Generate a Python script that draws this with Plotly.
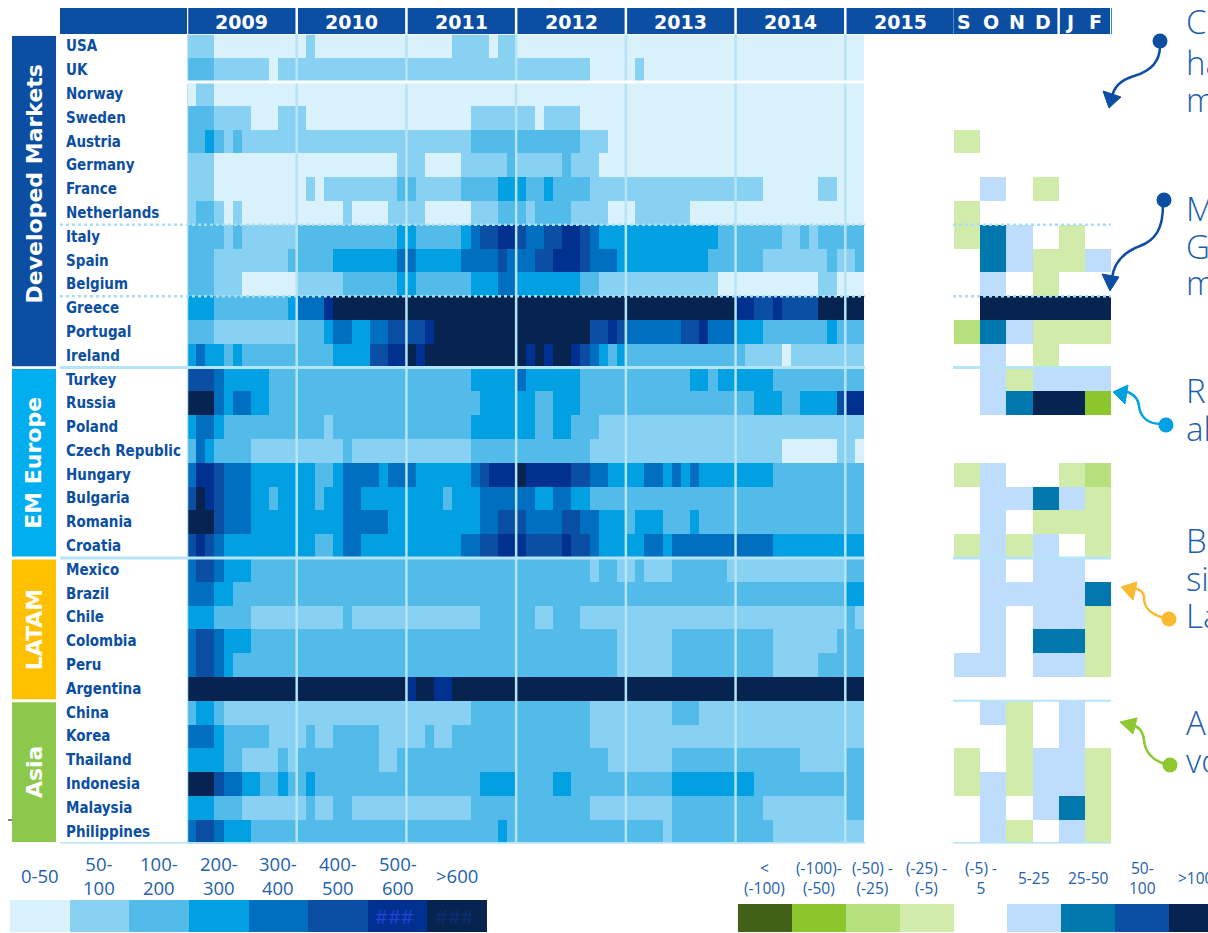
import plotly.graph_objects as go

W, H = 1208, 933

# ---------------------------------------------------------------- data
countries = ["USA", "UK", "Norway", "Sweden", "Austria", "Germany", "France", "Netherlands",
             "Italy", "Spain", "Belgium", "Greece", "Portugal", "Ireland",
             "Turkey", "Russia", "Poland", "Czech Republic", "Hungary", "Bulgaria", "Romania", "Croatia",
             "Mexico", "Brazil", "Chile", "Colombia", "Peru", "Argentina",
             "China", "Korea", "Thailand", "Indonesia", "Malaysia", "Philippines"]

group_names = ["Developed Markets", "EM Europe", "LATAM", "Asia"]
group_sizes = [14, 8, 6, 6]

years = ["2009", "2010", "2011", "2012", "2013", "2014", "2015"]
recent_months = ["S", "O", "N", "D", "J", "F"]

level_labels = ["0-50", "50-<br>100", "100-<br>200", "200-<br>300", "300-<br>400",
                "400-<br>500", "500-<br>600", ">600"]
change_labels = ["<<br>(-100)", "(-100)-<br>(-50)", "(-50) -<br>(-25)", "(-25) -<br>(-5)",
                 "(-5) -<br>5", "5-25", "25-50", "50-<br>100", ">100"]

# Monthly spread bucket (0 = 0-50 ... 7 = >600), Jan 2009 - Feb 2015, as (bucket, months) runs
developed_spreads = [
    [(1, 3), (0, 10), (1, 1), (0, 15), (1, 4), (0, 1), (1, 2), (0, 38)],
    [(2, 3), (1, 6), (0, 1), (1, 34), (0, 5), (1, 1), (0, 24)],
    [(0, 1), (1, 2), (0, 71)],
    [(2, 3), (1, 4), (0, 3), (1, 3), (0, 18), (1, 7), (0, 1), (1, 4), (0, 31)],
    [(2, 2), (3, 1), (2, 1), (1, 1), (2, 1), (1, 25), (2, 12), (1, 3), (0, 28)],
    [(1, 3), (0, 20), (1, 3), (0, 4), (1, 5), (2, 1), (1, 5), (2, 1), (1, 3), (0, 29)],
    [(1, 3), (0, 10), (1, 1), (0, 1), (1, 8), (2, 2), (1, 5), (2, 4), (3, 3), (2, 2), (3, 1),
     (2, 4), (1, 19), (0, 6), (1, 2), (0, 3)],
    [(1, 1), (2, 2), (1, 1), (0, 1), (1, 1), (0, 11), (1, 1), (0, 4), (1, 4), (0, 5), (1, 3),
     (2, 3), (1, 1), (2, 4), (1, 4), (0, 3), (1, 6), (0, 19)],
    [(2, 4), (1, 1), (2, 1), (1, 6), (2, 11), (3, 2), (2, 5), (3, 1), (4, 1), (5, 2), (6, 2),
     (5, 1), (4, 2), (5, 2), (6, 2), (5, 1), (4, 1), (3, 13), (2, 7), (1, 2), (2, 1), (1, 1), (2, 5)],
    [(2, 3), (1, 8), (2, 5), (3, 7), (4, 2), (3, 5), (4, 4), (5, 1), (4, 3), (5, 2), (6, 3),
     (5, 1), (4, 3), (3, 10), (2, 6), (1, 7), (2, 1), (1, 2), (2, 1)],
    [(2, 3), (1, 3), (0, 6), (1, 5), (2, 6), (3, 2), (2, 6), (3, 3), (4, 2), (3, 7), (2, 2),
     (1, 13), (0, 11), (1, 2), (0, 3)],
    [(3, 3), (2, 8), (3, 1), (4, 3), (6, 1), (7, 44), (6, 2), (5, 2), (6, 1), (5, 4), (7, 5)],
    [(2, 3), (1, 9), (2, 3), (3, 1), (4, 2), (3, 2), (4, 2), (5, 4), (6, 1), (7, 17), (5, 2),
     (6, 1), (5, 1), (4, 6), (5, 2), (6, 1), (4, 3), (3, 3), (2, 7), (3, 1), (2, 3)],
    [(3, 1), (4, 1), (3, 2), (2, 1), (3, 1), (2, 10), (3, 4), (5, 2), (6, 2), (7, 1), (6, 1),
     (7, 11), (6, 1), (7, 1), (6, 1), (7, 2), (6, 1), (5, 1), (4, 1), (3, 1), (2, 1), (3, 1),
     (2, 13), (1, 4), (0, 1), (1, 8)],
]
em_europe_spreads = [
    [(5, 3), (4, 1), (3, 5), (2, 22), (3, 5), (4, 1), (3, 6), (2, 12), (3, 2), (2, 1), (3, 6), (2, 10)],
    [(7, 3), (4, 1), (3, 1), (4, 2), (3, 2), (2, 23), (3, 6), (2, 2), (3, 3), (2, 19), (3, 3),
     (2, 2), (3, 4), (5, 1), (6, 2)],
    [(3, 1), (4, 2), (3, 1), (2, 11), (1, 1), (2, 15), (3, 7), (2, 2), (3, 2), (2, 3), (1, 29)],
    [(2, 1), (4, 1), (3, 1), (2, 4), (1, 10), (2, 1), (1, 13), (2, 13), (1, 21), (0, 6), (1, 2), (0, 1)],
    [(4, 1), (6, 2), (5, 1), (4, 3), (3, 7), (2, 2), (3, 1), (4, 4), (3, 1), (4, 3), (3, 6),
     (4, 1), (5, 1), (6, 3), (7, 1), (6, 5), (5, 2), (4, 2), (3, 4), (4, 2), (3, 1), (4, 1),
     (3, 1), (4, 1), (3, 8), (2, 10)],
    [(5, 1), (7, 1), (6, 1), (5, 1), (4, 3), (3, 2), (2, 1), (3, 4), (2, 1), (3, 2), (4, 2),
     (3, 9), (2, 1), (3, 3), (4, 6), (3, 2), (4, 2), (3, 2), (2, 30)],
    [(7, 3), (5, 1), (4, 3), (3, 10), (4, 5), (3, 10), (4, 2), (5, 3), (4, 4), (5, 2), (4, 2),
     (3, 3), (2, 1), (3, 3), (2, 3), (3, 1), (2, 18)],
    [(5, 1), (6, 1), (5, 1), (4, 1), (3, 10), (2, 2), (3, 1), (4, 2), (3, 11), (4, 2), (5, 2),
     (6, 3), (5, 4), (6, 1), (5, 2), (4, 1), (3, 5), (4, 2), (3, 1), (4, 11), (3, 10)],
]
latam_spreads = [
    [(4, 1), (5, 2), (4, 1), (3, 3), (2, 37), (1, 1), (2, 2), (1, 2), (2, 1), (1, 3), (2, 6), (1, 13), (2, 2)],
    [(4, 3), (3, 2), (2, 67), (3, 2)],
    [(3, 3), (2, 4), (1, 10), (2, 1), (1, 14), (2, 6), (1, 2), (2, 3), (1, 29), (2, 1), (1, 1)],
    [(4, 1), (5, 2), (4, 1), (3, 3), (2, 40), (1, 6), (2, 11), (1, 7), (2, 3)],
    [(4, 1), (5, 2), (4, 1), (3, 1), (2, 42), (1, 6), (2, 11), (1, 5), (2, 5)],
    [(7, 24), (6, 1), (7, 2), (6, 2), (7, 45)],
]
asia_spreads = [
    [(2, 1), (3, 2), (2, 1), (1, 27), (2, 13), (1, 9), (2, 3), (1, 18)],
    [(4, 3), (3, 1), (2, 5), (1, 4), (2, 1), (1, 2), (2, 5), (1, 5), (2, 1), (1, 2), (2, 15), (1, 30)],
    [(3, 4), (2, 2), (1, 4), (2, 1), (1, 1), (2, 9), (1, 2), (2, 23), (1, 7), (2, 14), (1, 5), (2, 2)],
    [(7, 3), (5, 1), (4, 2), (3, 2), (2, 2), (3, 1), (2, 2), (3, 1), (2, 18), (3, 4), (2, 4),
     (3, 2), (2, 11), (3, 9), (2, 12)],
    [(3, 3), (2, 3), (1, 7), (2, 1), (1, 2), (2, 2), (1, 13), (2, 13), (1, 9), (2, 10), (1, 9), (2, 2)],
    [(4, 1), (5, 2), (4, 1), (3, 3), (2, 27), (3, 1), (2, 17), (1, 1), (2, 11), (1, 10)],
]

# Monthly change bucket, Sep 2014 - Feb 2015 (-4 = <(-100) ... 0 = (-5)-5 ... 4 = >100)
developed_changes = [
    [0, 0, 0, 0, 0, 0], [0, 0, 0, 0, 0, 0], [0, 0, 0, 0, 0, 0], [0, 0, 0, 0, 0, 0],
    [-1, 0, 0, 0, 0, 0], [0, 0, 0, 0, 0, 0], [0, 1, 0, -1, 0, 0], [-1, 0, 0, 0, 0, 0],
    [-1, 2, 1, 0, -1, 0], [0, 2, 1, -1, -1, 1], [0, 1, 0, -1, 0, 0],
    [0, 4, 4, 4, 4, 4], [-2, 2, 1, -1, -1, -1], [0, 1, 0, -1, 0, 0],
]
em_europe_changes = [
    [0, 1, -1, 1, 1, 1], [0, 1, 2, 4, 4, -3], [0, 0, 0, 0, 0, 0], [0, 0, 0, 0, 0, 0],
    [-1, 1, 0, 0, -1, -2], [0, 1, 1, 2, 1, -1], [0, 1, 0, -1, -1, -1], [-1, 1, -1, 1, 0, -1],
]
latam_changes = [
    [0, 1, 0, 1, 1, 0], [0, 1, 1, 1, 1, 2], [0, 1, 0, 1, 1, -1],
    [0, 1, 0, 2, 2, -1], [1, 1, 0, 1, 1, -1], [0, 0, 0, 0, 0, 0],
]
asia_changes = [
    [0, 1, -1, 0, 1, 0], [0, 0, -1, 0, 1, 0], [-1, 0, -1, 1, 1, -1],
    [-1, 1, -1, 1, 1, -1], [0, 1, 0, 1, 2, -1], [0, 1, -1, 0, 1, -1],
]

# ---------------------------------------------------------------- styling
level_colors = ["#d9f1fb", "#89d1f2", "#52bbea", "#00a0e3", "#006fc0", "#0a4fa3", "#003090", "#06244f"]
change_colors = ["#416216", "#8bc72c", "#b6e07d", "#d0ebaa", "#ffffff",
                 "#bedcfc", "#0078ae", "#0a4fa3", "#06244f"]
group_colors = ["#0b4ea2", "#00aeef", "#ffc000", "#8cc84b"]
group_label_shift = [-0.7, 0, 0, 0]
NAVY = "#0b4ea2"
GRID = "#b5e4f6"
TEXT_BLUE = "#2360ad"
BOLD_FONT = "DejaVu Sans"


def px(x):
    return x / W


def py(y):
    return 1 - y / H


def expand(runs):
    row = []
    for level, n in runs:
        row += [level] * n
    return row


def discrete_scale(colors):
    n = len(colors)
    scale = []
    for i, c in enumerate(colors):
        scale += [[i / n, c], [(i + 1) / n, c]]
    return scale


spreads = [expand(r) for r in developed_spreads + em_europe_spreads + latam_spreads + asia_spreads]
changes = developed_changes + em_europe_changes + latam_changes + asia_changes
n_rows = len(countries)
n_months = len(spreads[0])

fig = go.Figure()

fig.add_trace(go.Heatmap(
    z=spreads, x=list(range(n_months)), y=list(range(n_rows)),
    colorscale=discrete_scale(level_colors), zmin=-0.5, zmax=len(level_colors) - 0.5,
    showscale=False, hoverinfo="skip", xaxis="x", yaxis="y"))

fig.add_trace(go.Heatmap(
    z=changes, x=list(range(len(recent_months))), y=list(range(n_rows)),
    colorscale=discrete_scale(change_colors), zmin=-4.5, zmax=4.5,
    showscale=False, hoverinfo="skip", xaxis="x2", yaxis="y2"))

# colour keys
fig.add_trace(go.Heatmap(
    z=[list(range(len(level_colors)))], colorscale=discrete_scale(level_colors),
    zmin=-0.5, zmax=len(level_colors) - 0.5, showscale=False, hoverinfo="skip",
    xaxis="x3", yaxis="y3"))
fig.add_trace(go.Heatmap(
    z=[list(range(-4, 5))], x=list(range(9)), colorscale=discrete_scale(change_colors),
    zmin=-4.5, zmax=4.5, showscale=False, hoverinfo="skip",
    xaxis="x4", yaxis="y4"))

hidden = dict(visible=False, fixedrange=True)
grid_top, grid_bottom = 34.5, 843.5
fig.update_layout(
    width=W, height=H, margin=dict(l=0, r=0, t=0, b=0),
    paper_bgcolor="white", plot_bgcolor="rgba(0,0,0,0)", showlegend=False,
    xaxis=dict(domain=[px(187), px(955)], range=[-0.5, 83.5], **hidden),
    yaxis=dict(domain=[py(grid_bottom), py(grid_top)], range=[n_rows - 0.5, -0.5], **hidden),
    xaxis2=dict(domain=[px(954), px(1111)], range=[-0.5, 5.5], anchor="y2", **hidden),
    yaxis2=dict(domain=[py(grid_bottom), py(grid_top)], range=[n_rows - 0.5, -0.5], anchor="x2", **hidden),
    xaxis3=dict(domain=[px(10), px(487)], range=[-0.5, 7.5], anchor="y3", **hidden),
    yaxis3=dict(domain=[py(932), py(900)], range=[-0.5, 0.5], anchor="x3", **hidden),
    xaxis4=dict(domain=[px(738), 1.0], range=[-0.5, -0.5 + (W - 738) / 53.9], anchor="y4", **hidden),
    yaxis4=dict(domain=[py(932), py(904)], range=[-0.5, 0.5], anchor="x4", **hidden),
)

shapes = []
ann = []

# header band
shapes.append(dict(type="rect", xref="paper", yref="paper", x0=px(60), x1=px(1110),
                   y0=py(34), y1=py(8), fillcolor=NAVY, line_width=0, layer="above"))
year_edges = [-0.5] + [11.5 + 12 * k for k in range(6)]
for xe in year_edges:
    shapes.append(dict(type="line", xref="x", yref="paper", x0=xe, x1=xe, y0=py(34), y1=py(8),
                       line=dict(color="white", width=2.5), layer="above"))
    shapes.append(dict(type="line", xref="x", yref="paper", x0=xe, x1=xe, y0=py(grid_bottom), y1=py(34),
                       line=dict(color=GRID, width=2.5), layer="above"))
shapes.append(dict(type="line", xref="paper", yref="paper", x0=px(953.5), x1=px(953.5), y0=py(34), y1=py(8),
                   line=dict(color="#4d86c8", width=1), layer="above"))
shapes.append(dict(type="line", xref="x2", yref="paper", x0=3.5, x1=3.5, y0=py(34), y1=py(8),
                   line=dict(color="white", width=2.5), layer="above"))
shapes.append(dict(type="line", xref="paper", yref="paper", x0=px(1111.5), x1=px(1111.5), y0=py(34), y1=py(8),
                   line=dict(color="#1e90e8", width=1), layer="above"))
# small stray tick left of the Asia block
shapes.append(dict(type="line", xref="paper", yref="paper", x0=px(8), x1=px(12), y0=py(820), y1=py(820),
                   line=dict(color="black", width=1)))

for i, yr in enumerate(years):
    ann.append(dict(x=5.5 + 12 * i, y=py(21.5), xref="x", yref="paper", text=yr, showarrow=False,
                    xanchor="center", yanchor="middle",
                    font=dict(family=BOLD_FONT, size=19, color="white", weight="bold")))
for i, m in enumerate(recent_months):
    ann.append(dict(x=i - 0.1, y=py(21.5), xref="x2", yref="paper", text=m, showarrow=False,
                    xanchor="center", yanchor="middle",
                    font=dict(family=BOLD_FONT, size=19, color="white", weight="bold")))

# row separators
main_span = (px(60), px(865))
side_span = (px(953), px(1111))
separators = [(1.5, "white", "solid", 3, [main_span]),
              (7.5, "#a9def3", "dot", 2.5, [main_span, side_span]),
              (10.5, "#a9def3", "dot", 2.5, [main_span, side_span]),
              (13.5, GRID, "solid", 3, [main_span, side_span]),
              (21.5, GRID, "solid", 3, [main_span, side_span]),
              (27.5, GRID, "solid", 2, [side_span]),
              (33.5, GRID, "solid", 3, [main_span, side_span])]
for yv, col, dash, w, spans in separators:
    for x0, x1 in spans:
        shapes.append(dict(type="line", xref="paper", yref="y", x0=x0, x1=x1, y0=yv, y1=yv,
                           line=dict(color=col, width=w, dash=dash), layer="above"))

# region bars and labels
start = 0
for name, size, col, shift in zip(group_names, group_sizes, group_colors, group_label_shift):
    end = start + size - 1
    shapes.append(dict(type="rect", xref="paper", yref="y", x0=px(12), x1=px(56),
                       y0=start - 0.5 + 0.06, y1=end + 0.5 - 0.06, fillcolor=col, line_width=0))
    ann.append(dict(x=px(34), y=(start + end) / 2 + shift, xref="paper", yref="y", text=name,
                    textangle=-90, showarrow=False, xanchor="center", yanchor="middle",
                    font=dict(family=BOLD_FONT, size=22, color="white", weight="bold")))
    start = end + 1

for i, c in enumerate(countries):
    ann.append(dict(x=px(64), y=i, xref="paper", yref="y", text=c, showarrow=False,
                    xanchor="left", yanchor="middle",
                    font=dict(family="DejaVu Sans Condensed", size=15, color=NAVY, weight="bold")))

# colour key labels
for i, lab in enumerate(level_labels):
    ann.append(dict(x=i, y=py(875), xref="x3", yref="paper", text=lab, showarrow=False,
                    xanchor="center", yanchor="middle",
                    font=dict(family="Open Sans", size=18.5, color=TEXT_BLUE)))
for i, lab in enumerate(change_labels):
    ann.append(dict(x=i, y=py(877.5), xref="x4", yref="paper", text=lab, showarrow=False,
                    xanchor="center", yanchor="middle",
                    font=dict(family="Open Sans", size=15.5, color=TEXT_BLUE)))
ann.append(dict(x=5.95, y=0, xref="x3", yref="y3", text="###", showarrow=False,
                xanchor="center", yanchor="middle",
                font=dict(family="Open Sans", size=20, color="#2343d6")))
ann.append(dict(x=6.95, y=0, xref="x3", yref="y3", text="###", showarrow=False,
                xanchor="center", yanchor="middle",
                font=dict(family="Open Sans", size=20, color="#0d2e74")))

# side notes
notes = [("C", 22), ("ha", 62), ("m", 99), ("M", 208), ("G", 246), ("m", 283),
         ("R", 390), ("al", 428), ("B", 540), ("si", 578), ("La", 615), ("A", 722), ("vo", 760)]
for txt, yv in notes:
    ann.append(dict(x=px(1184), y=py(yv), xref="paper", yref="paper", text=txt, showarrow=False,
                    xanchor="left", yanchor="middle",
                    font=dict(family="Open Sans", size=33, color="#1c5eae", weight=300)))


def svg_path(*parts):
    out = []
    for p in parts:
        if isinstance(p, str):
            out.append(p)
        else:
            out.append(f"{px(p[0]):.5f},{py(p[1]):.5f}")
    return " ".join(out)


pointers = [
    ("#0b4ea2", (1160, 41), [(1160, 46), (1160, 64), (1148, 72), (1134, 76), (1121, 80), (1113, 88), (1112, 98)],
     [(1109, 108), (1103, 91), (1121, 97)]),
    ("#0b4ea2", (1164, 200), [(1163, 205), (1163, 228), (1156, 240), (1140, 246), (1124, 252), (1114, 262), (1112, 278)],
     [(1110, 291), (1102, 274), (1119, 277)]),
    ("#00a0e3", (1166, 425), [(1161, 424), (1148, 424), (1140, 417), (1139, 406), (1138, 397), (1131, 392), (1123, 391)],
     [(1113, 392), (1128, 385), (1125, 404)]),
    ("#fbb932", (1169, 619), [(1164, 618), (1150, 614), (1144, 608), (1144, 598), (1144, 592), (1139, 588), (1131, 588)],
     [(1121, 587), (1137, 582), (1133, 600)]),
    ("#8cc82e", (1170, 765), [(1165, 764), (1152, 760), (1145, 752), (1144, 740), (1143, 731), (1138, 726), (1131, 724)],
     [(1120, 722), (1137, 718), (1133, 734)]),
]
for col, dot, curve, head in pointers:
    p0, c1, c2, p1, c3, c4, p2 = curve
    shapes.append(dict(type="path", xref="paper", yref="paper",
                       path=svg_path("M", p0, "C", c1, c2, p1, "C", c3, c4, p2),
                       line=dict(color=col, width=2.5)))
    shapes.append(dict(type="path", xref="paper", yref="paper",
                       path=svg_path("M", head[0], "L", head[1], "L", head[2], "Z"),
                       fillcolor=col, line=dict(color=col, width=1)))
    r = 7.5
    shapes.append(dict(type="circle", xref="paper", yref="paper",
                       x0=px(dot[0] - r), x1=px(dot[0] + r), y0=py(dot[1] + r), y1=py(dot[1] - r),
                       fillcolor=col, line_width=0))

fig.update_layout(shapes=shapes, annotations=ann)
fig.write_html("out.html")
